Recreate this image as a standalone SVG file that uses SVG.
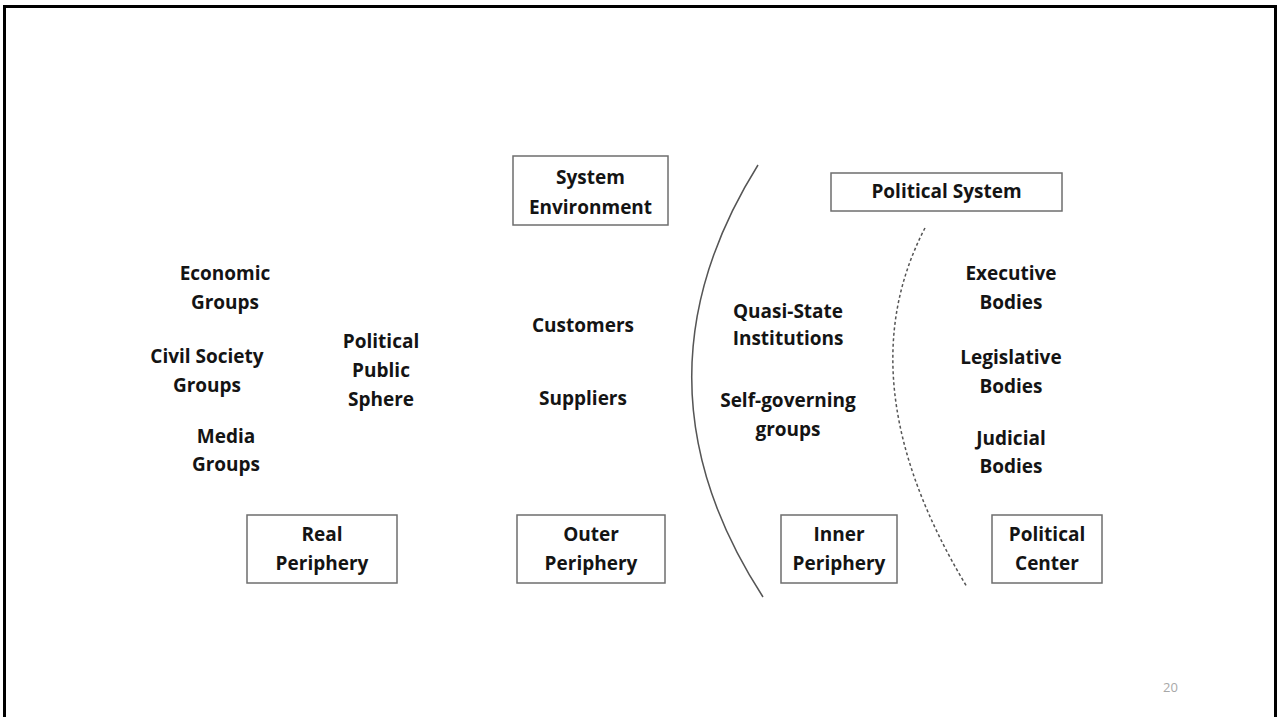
<svg xmlns="http://www.w3.org/2000/svg" width="1278" height="717" viewBox="0 0 1278 717">
  <style>
    .lbl { font-family: "Open Sans", "Liberation Sans", sans-serif; font-weight: bold; font-size: 19px; fill: #141414; text-anchor: middle; }
    .box { fill: #ffffff; stroke: #6e6e6e; stroke-width: 1.5; }
    .arc { fill: none; stroke: #555555; stroke-width: 1.5; }
    .dash { stroke-dasharray: 3 2.5; }
    .pg { font-family: "Open Sans", "Liberation Sans", sans-serif; font-size: 13px; fill: #a8a8a8; }
  </style>
  <rect width="1278" height="717" fill="#ffffff"/>
  <!-- slide frame -->
  <path d="M4.5,717 V6.5 H1275.5 V717" fill="none" stroke="#000000" stroke-width="3"/>

  <!-- boundary arcs -->
  <g id="connectors">
    <path class="arc" d="M758,165 Q623,381 763,597"/>
    <path class="arc dash" d="M925,228 Q844,383 967,587"/>
  </g>

  <g id="system-environment">
    <rect class="box" x="513" y="156" width="155" height="69"/>
    <text class="lbl" x="590.5" y="184">System</text>
    <text class="lbl" x="590.5" y="214">Environment</text>
  </g>
  <g id="political-system">
    <rect class="box" x="831" y="173" width="231" height="38"/>
    <text class="lbl" x="946.5" y="198">Political System</text>
  </g>

  <g id="economic-groups">
    <text class="lbl" x="225" y="280">Economic</text>
    <text class="lbl" x="225" y="309">Groups</text>
  </g>
  <g id="civil-society-groups">
    <text class="lbl" x="207" y="363">Civil Society</text>
    <text class="lbl" x="207" y="392">Groups</text>
  </g>
  <g id="media-groups">
    <text class="lbl" x="226" y="443">Media</text>
    <text class="lbl" x="226" y="471">Groups</text>
  </g>
  <g id="political-public-sphere">
    <text class="lbl" x="381" y="348">Political</text>
    <text class="lbl" x="381" y="377">Public</text>
    <text class="lbl" x="381" y="406">Sphere</text>
  </g>

  <g id="customers">
    <text class="lbl" x="583" y="332">Customers</text>
  </g>
  <g id="suppliers">
    <text class="lbl" x="583" y="405">Suppliers</text>
  </g>

  <g id="quasi-state-institutions">
    <text class="lbl" x="788" y="318">Quasi-State</text>
    <text class="lbl" x="788" y="345">Institutions</text>
  </g>
  <g id="self-governing-groups">
    <text class="lbl" x="788" y="407">Self-governing</text>
    <text class="lbl" x="788" y="436">groups</text>
  </g>

  <g id="executive-bodies">
    <text class="lbl" x="1011" y="280">Executive</text>
    <text class="lbl" x="1011" y="309">Bodies</text>
  </g>
  <g id="legislative-bodies">
    <text class="lbl" x="1011" y="364">Legislative</text>
    <text class="lbl" x="1011" y="393">Bodies</text>
  </g>
  <g id="judicial-bodies">
    <text class="lbl" x="1011" y="445">Judicial</text>
    <text class="lbl" x="1011" y="473">Bodies</text>
  </g>

  <g id="real-periphery">
    <rect class="box" x="247" y="515" width="150" height="68"/>
    <text class="lbl" x="322" y="541">Real</text>
    <text class="lbl" x="322" y="570">Periphery</text>
  </g>
  <g id="outer-periphery">
    <rect class="box" x="517" y="515" width="148" height="68"/>
    <text class="lbl" x="591" y="541">Outer</text>
    <text class="lbl" x="591" y="570">Periphery</text>
  </g>
  <g id="inner-periphery">
    <rect class="box" x="781" y="515" width="116" height="68"/>
    <text class="lbl" x="839" y="541">Inner</text>
    <text class="lbl" x="839" y="570">Periphery</text>
  </g>
  <g id="political-center">
    <rect class="box" x="992" y="515" width="110" height="68"/>
    <text class="lbl" x="1047" y="541">Political</text>
    <text class="lbl" x="1047" y="570">Center</text>
  </g>

  <text class="pg" x="1163" y="692">20</text>
</svg>
